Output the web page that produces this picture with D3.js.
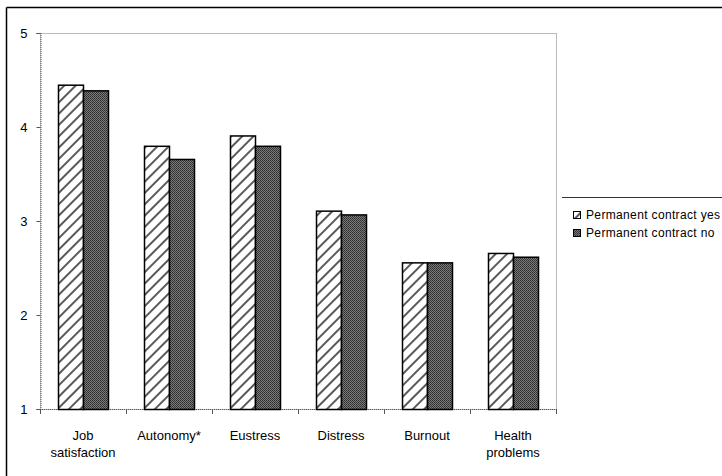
<!DOCTYPE html>
<html>
<head>
<meta charset="utf-8">
<script src="https://cdn.jsdelivr.net/npm/d3@7"></script>
<style>
  html, body { margin: 0; padding: 0; background: #fff; }
  svg { display: block; font-family: "Liberation Sans", Arial, sans-serif; }
</style>
</head>
<body>
<svg id="chart" width="722" height="476"></svg>
<script>
// Scale scores per outcome, split by contract type
const categories = [["Job", "satisfaction"], ["Autonomy*"], ["Eustress"], ["Distress"], ["Burnout"], ["Health", "problems"]];
const seriesNames = ["Permanent contract yes", "Permanent contract no"];
const contractYes = [4.45, 3.80, 3.91, 3.11, 2.56, 2.66];
const contractNo  = [4.39, 3.66, 3.80, 3.07, 2.56, 2.62];
const yTicks = [1, 2, 3, 4, 5];

const svg = d3.select("#chart");
const plot = { left: 40, top: 33, right: 556, bottom: 409 };

// Fill patterns: white with diagonal hatching, and a dense dark dither
const defs = svg.append("defs");
const hatch = defs.append("pattern")
  .attr("id", "hatchYes").attr("patternUnits", "userSpaceOnUse")
  .attr("width", 8).attr("height", 8)
  .attr("patternTransform", "rotate(45)");
hatch.append("rect").attr("width", 8).attr("height", 8).attr("fill", "#fff");
hatch.append("rect").attr("x", 0).attr("y", 0).attr("width", 2).attr("height", 8).attr("fill", "#5a5a5a");

const dither = defs.append("pattern")
  .attr("id", "ditherNo").attr("patternUnits", "userSpaceOnUse")
  .attr("width", 2).attr("height", 2);
dither.append("rect").attr("width", 2).attr("height", 2).attr("fill", "#7a7a7a");
dither.append("rect").attr("width", 1).attr("height", 1).attr("fill", "#2e2e2e");
dither.append("rect").attr("x", 1).attr("y", 1).attr("width", 1).attr("height", 1).attr("fill", "#3a3a3a");

const fills = ["url(#hatchYes)", "url(#ditherNo)"];

// Outer frame (top and left edges fall inside the canvas)
const frame = svg.append("g").attr("stroke", "#000").attr("stroke-width", 1.5);
frame.append("line").attr("x1", 6.5).attr("x2", 722).attr("y1", 7.5).attr("y2", 7.5);
frame.append("line").attr("x1", 6.5).attr("x2", 6.5).attr("y1", 7.5).attr("y2", 476);

const x0 = d3.scaleBand()
  .domain(d3.range(categories.length))
  .range([plot.left, plot.right])
  .paddingInner(0).paddingOuter(0);
const groupWidth = 50;
const x1 = d3.scaleBand()
  .domain([0, 1])
  .range([0, groupWidth]);
const y = d3.scaleLinear().domain([1, 5]).range([plot.bottom, plot.top]);

// Plot area dotted border
svg.append("rect")
  .attr("x", plot.left + 0.5).attr("y", plot.top + 0.5)
  .attr("width", plot.right - plot.left).attr("height", plot.bottom - plot.top)
  .attr("fill", "none").attr("stroke", "#777").attr("stroke-width", 1)
  .attr("stroke-dasharray", "1,1");

// Y axis
const yAxis = svg.append("g")
  .attr("transform", `translate(${plot.left + 0.5},0)`)
  .call(d3.axisLeft(y).tickValues(yTicks).tickFormat(d3.format("d")).tickSize(4).tickPadding(9));
yAxis.select(".domain").attr("stroke", "#555").attr("stroke-dasharray", "1,1");
yAxis.selectAll(".tick line").attr("stroke", "#555");
yAxis.selectAll(".tick text").attr("font-size", 13).attr("fill", "#000")
  .attr("font-family", "'Liberation Sans', Arial, sans-serif");

// X axis baseline with category boundary ticks
const boundaries = d3.range(categories.length + 1).map(i => i === categories.length ? plot.right : x0(i));
const xg = svg.append("g");
xg.append("line")
  .attr("x1", plot.left).attr("x2", plot.right)
  .attr("y1", plot.bottom + 0.5).attr("y2", plot.bottom + 0.5)
  .attr("stroke", "#555").attr("stroke-dasharray", "1,1");
xg.selectAll("line.tick").data(boundaries).join("line")
  .attr("class", "tick")
  .attr("x1", d => d + 0.5).attr("x2", d => d + 0.5)
  .attr("y1", plot.bottom).attr("y2", plot.bottom + 5)
  .attr("stroke", "#555");

// Category labels
xg.selectAll("text.cat").data(categories).join("text")
  .attr("class", "cat")
  .attr("text-anchor", "middle")
  .attr("font-size", 13)
  .attr("fill", "#000")
  .attr("x", (d, i) => x0(i) + x0.bandwidth() / 2)
  .attr("y", plot.bottom + 31)
  .selectAll("tspan").data(d => d).join("tspan")
  .attr("x", function () { return d3.select(this.parentNode).attr("x"); })
  .attr("dy", (d, i) => i === 0 ? 0 : 17)
  .text(d => d);

// Bars
const rows = categories.map((c, i) => [contractYes[i], contractNo[i]]);
const groups = svg.append("g").selectAll("g").data(rows).join("g")
  .attr("transform", (d, i) => `translate(${x0(i) + (x0.bandwidth() - groupWidth) / 2},0)`);
groups.selectAll("rect").data(d => d.map((v, s) => ({ v, s }))).join("rect")
  .attr("x", d => x1(d.s) + 0.5)
  .attr("y", d => y(d.v) + 0.5)
  .attr("width", x1.bandwidth())
  .attr("height", d => y(1) - y(d.v))
  .attr("fill", d => fills[d.s])
  .attr("stroke", "#000")
  .attr("stroke-width", 1.5);

// Legend
const legend = svg.append("g").attr("transform", "translate(562,197)");
legend.append("line")
  .attr("x1", 0).attr("x2", 170).attr("y1", 0.5).attr("y2", 0.5)
  .attr("stroke", "#333").attr("stroke-width", 1);
const items = legend.selectAll("g.item").data(seriesNames).join("g")
  .attr("class", "item")
  .attr("transform", (d, i) => `translate(11,${22 + i * 18})`);
items.append("rect")
  .attr("x", 0.5).attr("y", -7.5).attr("width", 7).attr("height", 7)
  .attr("fill", (d, i) => fills[i]).attr("stroke", "#000").attr("stroke-width", 1);
items.append("text")
  .attr("x", 13).attr("y", 0)
  .attr("font-size", 12).attr("letter-spacing", 0.35).attr("fill", "#000")
  .text(d => d);
</script>
</body>
</html>
